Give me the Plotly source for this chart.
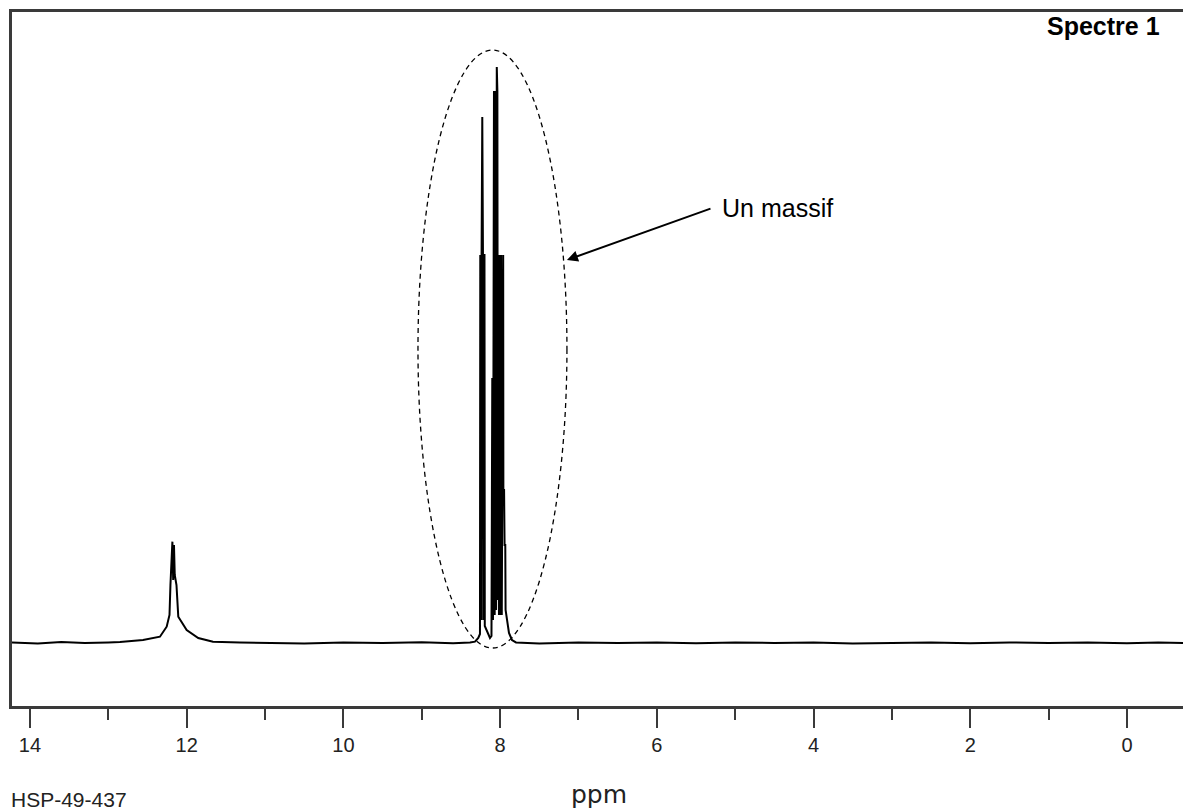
import plotly.graph_objects as go

# Spectrum trace (chemical shift in ppm, relative intensity)
ppm = [
    14.23, 13.90, 13.60, 13.30, 13.00,
    12.851, 12.557, 12.341, 12.255, 12.219, 12.207, 12.193, 12.182, 12.172,
    12.162, 12.152, 12.130, 12.107, 12.000, 11.852, 11.664, 11.320,
    11.00, 10.50, 10.00, 9.50, 9.00, 8.60,
    8.3844, 8.3206, 8.2785, 8.2568, 8.2530, 8.2440, 8.2364, 8.2274, 8.2185,
    8.2159, 8.2070, 8.1993, 8.1955, 8.1713, 8.1547, 8.1292, 8.1100,
    8.0998, 8.0909, 8.0832, 8.0781, 8.0692, 8.0602, 8.0513, 8.0424, 8.0347,
    8.0283, 8.0232, 8.0143, 8.0053, 7.9964, 7.9875, 7.9786, 7.9696, 7.9607,
    7.9581, 7.9492, 7.9428, 7.9339, 7.9301, 7.9122, 7.8867, 7.8484, 7.7973,
    7.50, 7.00, 6.50, 6.00, 5.50, 5.00, 4.50, 4.00, 3.50, 3.00,
    2.50, 2.00, 1.50, 1.00, 0.50, 0.00, -0.40, -0.72,
]
intensity = [
    0.10, -0.10, 0.15, 0.00, 0.10,
    0.17, 0.52, 1.09, 2.83, 4.86, 10.07, 15.28, 17.59, 10.94,
    17.01, 11.81, 10.07, 4.57, 2.26, 0.87, 0.23, 0.09,
    0.05, -0.10, 0.10, 0.00, 0.12, -0.05,
    0.09, 0.23, 0.87, 1.56, 67.36, 3.99, 67.36, 91.32, 67.36,
    3.99, 67.36, 67.36, 2.95, 2.26, 1.74, 0.87, 1.22,
    46.01, 3.99, 46.01, 95.83, 4.86, 95.83, 5.73, 100.0, 95.83,
    7.47, 67.36, 4.86, 67.36, 4.86, 67.36, 4.86, 67.36, 67.36,
    26.56, 26.56, 17.01, 17.01, 5.73, 3.99, 1.74, 0.52, 0.09,
    -0.10, 0.10, 0.00, 0.10, -0.05, 0.10, 0.00, 0.10, -0.10, 0.05,
    0.10, -0.05, 0.10, 0.00, 0.10, -0.05, 0.10, 0.00,
]

tick_values = [14, 12, 10, 8, 6, 4, 2, 0]
tick_labels = ["14", "12", "10", "8", "6", "4", "2", "0"]

axis_color = "#3a3a3a"

fig = go.Figure()
fig.add_trace(go.Scatter(
    x=ppm, y=intensity, mode="lines",
    line=dict(color="black", width=2),
    hoverinfo="skip", showlegend=False,
))

# dashed ellipse around the aromatic multiplet
fig.add_shape(type="circle", xref="x", yref="y",
              x0=9.048, x1=7.147, y0=-0.87, y1=102.95,
              line=dict(color="black", width=1.3, dash="5px,4px"))

# arrow pointing to the ellipse
fig.add_annotation(xref="x", yref="y", axref="x", ayref="y",
                   x=7.147, y=66.5, ax=5.296, ay=75.5,
                   text="", showarrow=True, arrowhead=2, arrowsize=1.1,
                   arrowwidth=2, arrowcolor="black", standoff=0)
fig.add_annotation(xref="paper", yref="paper", x=0.6046, y=0.7176,
                   text="Un massif", showarrow=False, xanchor="left", yanchor="middle",
                   font=dict(family="Liberation Sans, Arial, sans-serif", size=25, color="black"))
fig.add_annotation(xref="paper", yref="paper", x=0.982, y=0.980,
                   text="<b>Spectre 1</b>", showarrow=False, xanchor="right", yanchor="middle",
                   font=dict(family="Liberation Sans, Arial, sans-serif", size=25, color="black"))
fig.add_annotation(xref="paper", yref="paper", x=0.5013, y=-0.1282,
                   text="ppm", showarrow=False, xanchor="center", yanchor="middle",
                   font=dict(family="DejaVu Sans, sans-serif", size=25, color="#222"))
fig.add_annotation(xref="paper", yref="paper", x=-0.0025, y=-0.1347,
                   text="HSP-49-437", showarrow=False, xanchor="left", yanchor="middle",
                   font=dict(family="Liberation Sans, Arial, sans-serif", size=21, color="#222"))

fig.update_xaxes(
    range=[14.229, -0.715], showgrid=False, zeroline=False,
    showline=True, linecolor=axis_color, linewidth=2.5, mirror=True,
    tickmode="array", tickvals=tick_values, ticktext=tick_labels,
    ticks="outside", ticklen=19, tickwidth=2, tickcolor=axis_color,
    minor=dict(ticks="outside", ticklen=11, tickwidth=2, tickcolor=axis_color,
               dtick=1, tick0=0, showgrid=False),
    tickfont=dict(family="Liberation Sans, Arial, sans-serif", size=20, color="#222"),
)
fig.update_yaxes(
    range=[-10.94, 109.55], showgrid=False, zeroline=False,
    showline=True, linecolor=axis_color, linewidth=2.5, mirror=False,
    showticklabels=False, ticks="",
)
fig.update_layout(
    width=1183, height=812, autosize=False,
    margin=dict(l=12, r=0, t=12, b=106),
    paper_bgcolor="white", plot_bgcolor="white",
)
fig.write_html("out.html", config={"displayModeBar": False},
               post_script="document.body.style.margin='0';document.body.style.overflow='hidden';")
